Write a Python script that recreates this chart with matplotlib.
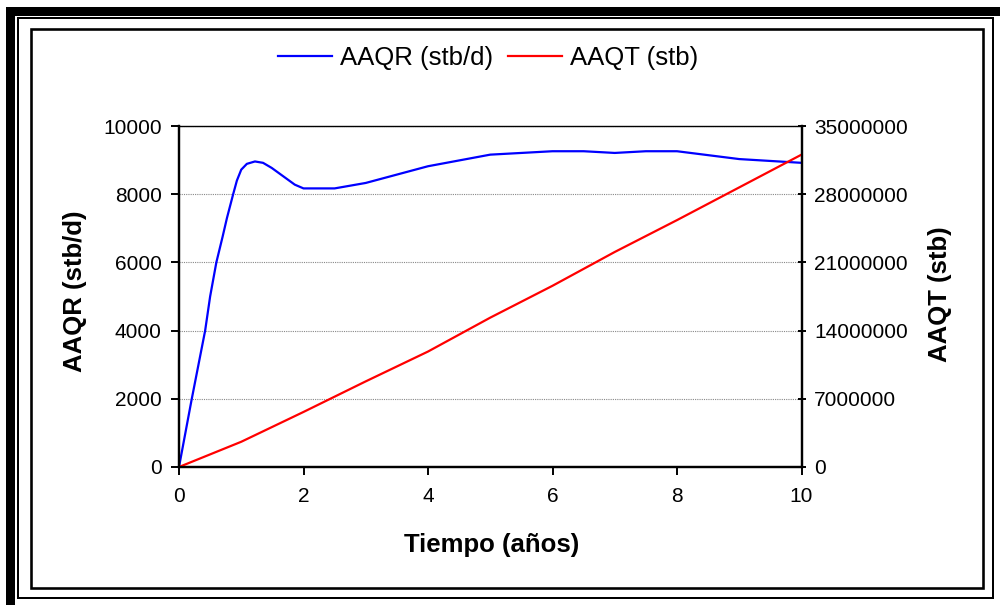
import matplotlib
matplotlib.use("Agg")
import matplotlib.pyplot as plt
from matplotlib.patches import Rectangle
from matplotlib.ticker import FuncFormatter

plt.rcParams['font.family'] = ['Liberation Sans', 'DejaVu Sans']

# Data
years_q = [0, 0.2, 0.42, 0.5, 0.6, 0.7, 0.77, 0.87, 0.93, 1.0, 1.09, 1.22, 1.35, 1.49, 1.86, 2.0,
           2.5, 3, 4, 5, 6, 6.5, 7, 7.5, 8, 9, 10]
aaqr = [0, 1950, 4000, 5000, 6000, 6750, 7300, 8000, 8400, 8720, 8890, 8960, 8920, 8770, 8280, 8170,
        8170, 8330, 8820, 9160, 9260, 9260, 9210, 9260, 9260, 9030, 8920]
years_t = [0, 1, 2, 3, 4, 5, 6, 7, 8, 9, 10]
aaqt = [0, 2.59e6, 5.65e6, 8.79e6, 11.85e6, 15.33e6, 18.6e6, 22.07e6, 25.34e6, 28.7e6, 32.06e6]
xticks = [0, 2, 4, 6, 8, 10]
yticks_left = [0, 2000, 4000, 6000, 8000, 10000]
yticks_right = [0, 7000000, 14000000, 21000000, 28000000, 35000000]

W, H = 1000, 605
fig = plt.figure(figsize=(W / 100, H / 100), dpi=100)

def px(x0, y0, x1, y1):
    return [x0 / W, 1 - y1 / H, (x1 - x0) / W, (y1 - y0) / H]

ax = fig.add_axes(px(179, 126, 801.5, 467))
ax2 = ax.twinx()

l1, = ax.plot(years_q, aaqr, color='#0000FF', lw=1.6, label='AAQR (stb/d)')
l2, = ax2.plot(years_t, aaqt, color='#FF0000', lw=1.6, label='AAQT (stb)')

ax.set_xlim(0, 10)
ax.set_ylim(0, 10000)
ax2.set_ylim(0, 35000000)
ax.set_xticks(xticks)
ax.set_yticks(yticks_left)
ax2.set_yticks(yticks_right)
ax2.yaxis.set_major_formatter(FuncFormatter(lambda v, p: f"{int(v)}"))

ax.grid(axis='y', color='#888888', linestyle=(0, (1, 1)), lw=0.8)
ax.set_axisbelow(True)

for a in (ax, ax2):
    for s in a.spines.values():
        s.set_linewidth(1.6)
        s.set_color('black')
ax.spines['top'].set_linewidth(1.0)
ax2.spines['top'].set_visible(False)

ax.tick_params(axis='both', direction='out', length=5.5, width=1.4, labelsize=15, pad=7)
ax.tick_params(axis='x', pad=9)
ax2.tick_params(axis='y', direction='inout', length=6, width=1.4, labelsize=15, pad=6)

fig.text(75 / W, 1 - 291 / H, 'AAQR (stb/d)', rotation=90, ha='center', va='center',
         fontsize=18.5, fontweight='bold')
fig.text(940 / W, 1 - 294 / H, 'AAQT (stb)', rotation=90, ha='center', va='center',
         fontsize=18.5, fontweight='bold')
fig.text(491.5 / W, 1 - 545 / H, 'Tiempo (años)', ha='center', va='center',
         fontsize=18.5, fontweight='bold')

fig.legend(handles=[l1, l2], loc='center', bbox_to_anchor=(488 / W, 1 - 58 / H),
           ncol=2, frameon=False, fontsize=18.5, handlelength=2.1, handletextpad=0.3,
           columnspacing=0.6)

def frame(x0, y0, x1, y1, lw_px):
    fig.add_artist(Rectangle((x0 / W, 1 - y1 / H), (x1 - x0) / W, (y1 - y0) / H,
                             transform=fig.transFigure, fill=False, edgecolor='black',
                             lw=lw_px * 0.72, joinstyle='miter'))

frame(10, 11, 1003, 608, 9)
frame(18, 18, 992.5, 597.5, 2)
frame(30.5, 28.5, 982.5, 587.5, 2.6)

fig.savefig('out.png', dpi=100)
